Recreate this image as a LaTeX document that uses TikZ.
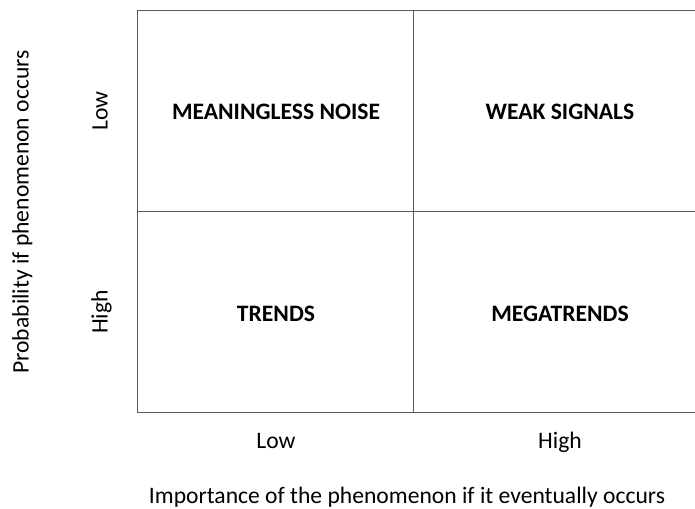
\documentclass[tikz,border=0pt]{standalone}
\usepackage{fontspec}
\setmainfont{Carlito}
\tikzstyle{quadrant} = [font=\bfseries\fontsize{11.8}{14}\selectfont, text centered]
\tikzstyle{axislabel} = [font=\fontsize{11.8}{14}\selectfont, text height=1.6ex, text depth=0.4ex]
\tikzstyle{gridline} = [draw=black!65, line width=0.6pt]

\begin{document}
\begin{tikzpicture}[x=0.5pt, y=-0.5pt]
	\useasboundingbox (0,0) rectangle (695,508);
	% Grid corners
	\coordinate (TopLeft) at (137.5,10.5);
	\coordinate (TopMid) at (413.5,10.5);
	\coordinate (TopRight) at (700,10.5);
	\coordinate (MidLeft) at (137.5,211.5);
	\coordinate (MidRight) at (700,211.5);
	\coordinate (BottomLeft) at (137.5,412.5);
	\coordinate (BottomMid) at (413.5,412.5);
	\coordinate (BottomRight) at (700,412.5);
	% Place nodes
	\node [quadrant] (MeaninglessNoise) at (276,112) {MEANINGLESS NOISE};
	\node [quadrant] (WeakSignals) at (560,112) {WEAK SIGNALS};
	\node [quadrant] (Trends) at (276,314) {TRENDS};
	\node [quadrant] (Megatrends) at (560,314) {MEGATRENDS};
	\node [axislabel, rotate=90] (ProbLow) at (102,111) {Low};
	\node [axislabel, rotate=90] (ProbHigh) at (102,312) {High};
	\node [axislabel, rotate=90] (Probability) at (23,212) {Probability if phenomenon occurs};
	\node [axislabel] (ImpLow) at (276,443) {Low};
	\node [axislabel] (ImpHigh) at (560,443) {High};
	\node [axislabel] (Importance) at (407,498) {Importance of the phenomenon if it eventually occurs};
	% Draw grid lines
	\draw [gridline] (TopRight) -- (TopLeft) -- (BottomLeft) -- (BottomRight);
	\draw [gridline] (MidLeft) -- (MidRight);
	\draw [gridline] (TopMid) -- (BottomMid);
\end{tikzpicture}
\end{document}
